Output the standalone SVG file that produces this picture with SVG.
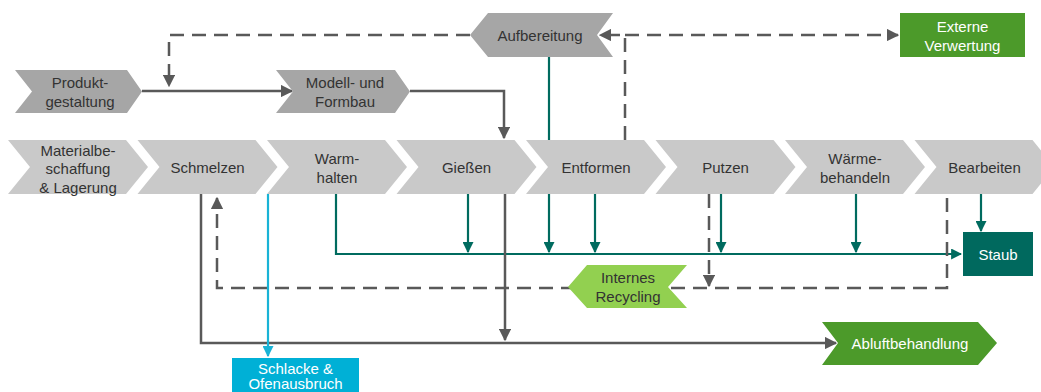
<svg xmlns="http://www.w3.org/2000/svg" width="1041" height="392" viewBox="0 0 1041 392">
<style>
text{font-family:"Liberation Sans",Arial,sans-serif;font-size:15px;text-anchor:middle;dominant-baseline:central}
.dk{fill:#333333}
.wt{fill:#ffffff}
.chev{fill:#c9c9c9}
.top{fill:#a6a6a6}
.g{fill:none;stroke:#595959;stroke-width:2.5}
.gd{fill:none;stroke:#595959;stroke-width:2.5;stroke-dasharray:14 8}
.t{fill:none;stroke:#006b5f;stroke-width:2.2}
.c{fill:none;stroke:#19b3d6;stroke-width:2.2}
</style>
<defs>
<marker id="ag" viewBox="0 0 10 10" refX="9" refY="5" markerWidth="5" markerHeight="5" orient="auto" markerUnits="strokeWidth"><path d="M0,0 L10,5 L0,10 z" fill="#595959"/></marker>
<marker id="at" viewBox="0 0 10 10" refX="9" refY="5" markerWidth="5" markerHeight="5" orient="auto" markerUnits="strokeWidth"><path d="M0,0 L10,5 L0,10 z" fill="#006b5f"/></marker>
<marker id="ac" viewBox="0 0 10 10" refX="9" refY="5" markerWidth="5" markerHeight="5" orient="auto" markerUnits="strokeWidth"><path d="M0,0 L10,5 L0,10 z" fill="#19b3d6"/></marker>
</defs>

<g id="connectors">
<path class="gd" d="M470,35 H169 V86" marker-end="url(#ag)"/>
<path class="g" d="M142,91 H292" marker-end="url(#ag)"/>
<path class="g" d="M410,91 H504 V138" marker-end="url(#ag)"/>
<path class="gd" d="M625,140 V35 H600" marker-end="url(#ag)"/>
<path class="gd" d="M625,35 H898" marker-end="url(#ag)"/>
<path class="t" d="M549,57 V140"/>
<path class="t" d="M336,194 V254 H961" marker-end="url(#at)"/>
<path class="t" d="M468,194 V252" marker-end="url(#at)"/>
<path class="t" d="M549,194 V252" marker-end="url(#at)"/>
<path class="t" d="M595,194 V252" marker-end="url(#at)"/>
<path class="t" d="M721,194 V252" marker-end="url(#at)"/>
<path class="t" d="M856,194 V252" marker-end="url(#at)"/>
<path class="t" d="M981,194 V231" marker-end="url(#at)"/>
<path class="gd" d="M947,198 V288 H217 V198" marker-end="url(#ag)"/>
<path class="gd" d="M709,194 V286" marker-end="url(#ag)"/>
<path class="g" d="M201,194 V343 H836" marker-end="url(#ag)"/>
<path class="g" d="M505,194 V340" marker-end="url(#ag)"/>
<path class="c" d="M268,194 V356" marker-end="url(#ac)"/>
</g>

<g id="n-material"><polygon class="chev" points="8,140 126,140 148,167 126,194 8,194 30,167"/><text class="dk" x="78" y="150">Materialbe-</text><text class="dk" x="78" y="168.5">schaffung</text><text class="dk" x="78" y="187">&amp; Lagerung</text></g>
<g id="n-schmelzen"><polygon class="chev" points="137.5,140 255.5,140 277.5,167 255.5,194 137.5,194 159.5,167"/><text class="dk" x="207.5" y="167">Schmelzen</text></g>
<g id="n-warmhalten"><polygon class="chev" points="267,140 385,140 407,167 385,194 267,194 289,167"/><text class="dk" x="337" y="158.5">Warm-</text><text class="dk" x="337" y="177">halten</text></g>
<g id="n-giessen"><polygon class="chev" points="396.5,140 514.5,140 536.5,167 514.5,194 396.5,194 418.5,167"/><text class="dk" x="466.5" y="167">Gießen</text></g>
<g id="n-entformen"><polygon class="chev" points="526,140 644,140 666,167 644,194 526,194 548,167"/><text class="dk" x="596" y="167">Entformen</text></g>
<g id="n-putzen"><polygon class="chev" points="655.5,140 773.5,140 795.5,167 773.5,194 655.5,194 677.5,167"/><text class="dk" x="725.5" y="167">Putzen</text></g>
<g id="n-waerme"><polygon class="chev" points="785,140 903,140 925,167 903,194 785,194 807,167"/><text class="dk" x="855" y="158.5">Wärme-</text><text class="dk" x="855" y="177">behandeln</text></g>
<g id="n-bearbeiten"><polygon class="chev" points="914.5,140 1032.5,140 1054.5,167 1032.5,194 914.5,194 936.5,167"/><text class="dk" x="984.5" y="167">Bearbeiten</text></g>

<g id="n-produkt"><polygon class="top" points="15,70 127,70 142,91.5 127,113 15,113 32,91.5"/><text class="dk" x="80" y="82">Produkt-</text><text class="dk" x="80" y="101">gestaltung</text></g>
<g id="n-modell"><polygon class="top" points="276,70 395,70 410,91.5 395,113 276,113 293,91.5"/><text class="dk" x="345" y="82">Modell- und</text><text class="dk" x="345" y="101">Formbau</text></g>
<g id="n-aufbereitung"><polygon class="top" points="470,35 488,13 613,13 597,35 613,57 488,57"/><text class="dk" x="540" y="35">Aufbereitung</text></g>
<g id="n-externe"><rect x="900" y="13" width="125" height="44" fill="#4c9a2a"/><text class="wt" x="962.5" y="26.5">Externe</text><text class="wt" x="962.5" y="45">Verwertung</text></g>
<g id="n-staub"><rect x="963" y="232" width="70" height="44" fill="#00695e"/><text class="wt" x="998" y="254">Staub</text></g>
<g id="n-internes"><polygon points="568,287 587,265 687,265 668,287 687,308 587,308" fill="#92d050"/><text class="dk" x="628" y="277.5">Internes</text><text class="dk" x="628" y="296.5">Recycling</text></g>
<g id="n-abluft"><polygon points="822,322 978,322 997,343 978,365 822,365 838,343" fill="#4c9a2a"/><text class="wt" x="910" y="343">Abluftbehandlung</text></g>
<g id="n-schlacke"><rect x="232" y="358" width="127" height="44" fill="#00b0d6"/><text class="wt" x="295.5" y="368.5">Schlacke &amp;</text><text class="wt" x="295.5" y="383.5">Ofenausbruch</text></g>
</svg>
